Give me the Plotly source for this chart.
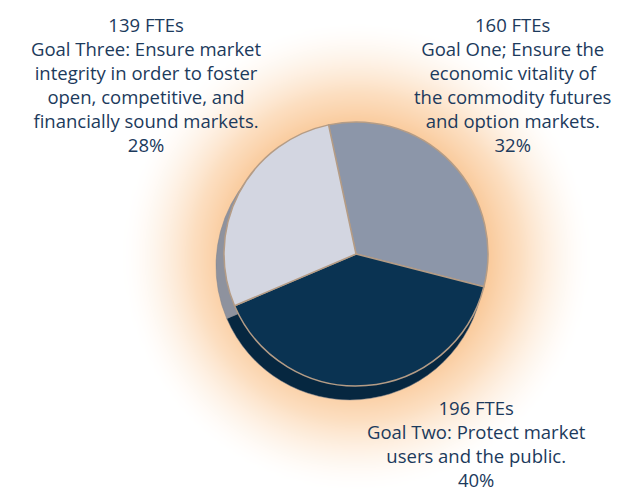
import numpy as np
import plotly.graph_objects as go

# ---- data ----
goals = ["Goal One", "Goal Two", "Goal Three"]
ftes = [160, 196, 139]
percents = ["32%", "40%", "28%"]
descriptions = [
    "Goal One; Ensure the<br>economic vitality of<br>the commodity futures<br>and option markets.",
    "Goal Two: Protect market<br>users and the public.",
    "Goal Three: Ensure market<br>integrity in order to foster<br>open, competitive, and<br>financially sound markets.",
]
top_colors = ["#8C96A9", "#0A3352", "#D3D6E1"]
side_colors = ["#6F7789", "#062740", "#8E929E"]

W, H = 621, 497

# ---- background radial glow (style only) ----
cx, cy = 348, 248
gx = np.arange(0, W + 10, 8)
gy = np.arange(0, H + 10, 8)
X, Y = np.meshgrid(gx, gy)
R = np.sqrt((X - cx) ** 2 + ((H - Y) - cy) ** 2)
t = np.clip((R - 125) / (235 - 125), 0, 1)
glow = (1 - t) ** 1.6

fig = go.Figure()
fig.add_trace(go.Heatmap(
    x=gx, y=gy, z=glow, zmin=0, zmax=1, zsmooth="best",
    colorscale=[[0, "#FFFFFF"], [0.5, "#FCDEC0"], [1, "#F9C592"]],
    showscale=False, hoverinfo="skip",
))

def dom(px, py, r):
    return dict(x=[(px - r) / W, (px + r) / W], y=[(H - py - r) / H, (H - py + r) / H])

# side / depth pie (offset)
fig.add_trace(go.Pie(
    values=ftes, labels=goals, sort=False, direction="clockwise", rotation=-12,
    marker=dict(colors=side_colors, line=dict(color="#7E828C", width=0.5)),
    textinfo="none", hoverinfo="skip", showlegend=False,
    domain=dom(342, 258, 134),
))
# top pie
fig.add_trace(go.Pie(
    values=ftes, labels=goals, sort=False, direction="clockwise", rotation=-12,
    marker=dict(colors=top_colors, line=dict(color="#B49C86", width=1.5)),
    textinfo="none", showlegend=False,
    domain=dom(348, 246, 132),
))

text_font = dict(family="'Open Sans', sans-serif", size=18.5, color="#1C3A5C")
positions = [(138, 3), (505, 3), (468, 386)]
order = [2, 0, 1]
for pos, i in zip(positions, order):
    fig.add_annotation(
        x=pos[0] / W, y=1 - pos[1] / H, xref="paper", yref="paper",
        xanchor="center", yanchor="top", showarrow=False, align="center",
        borderpad=0,
        text=f"{ftes[i]} FTEs<br>{descriptions[i]}<br>{percents[i]}",
        font=text_font,
    )

fig.update_layout(
    width=W, height=H, margin=dict(l=0, r=0, t=0, b=0),
    paper_bgcolor="white", plot_bgcolor="white",
    xaxis=dict(visible=False, range=[0, W], domain=[0, 1], fixedrange=True),
    yaxis=dict(visible=False, range=[0, H], domain=[0, 1], fixedrange=True),
    showlegend=False,
)

fig.write_html("out.html")
